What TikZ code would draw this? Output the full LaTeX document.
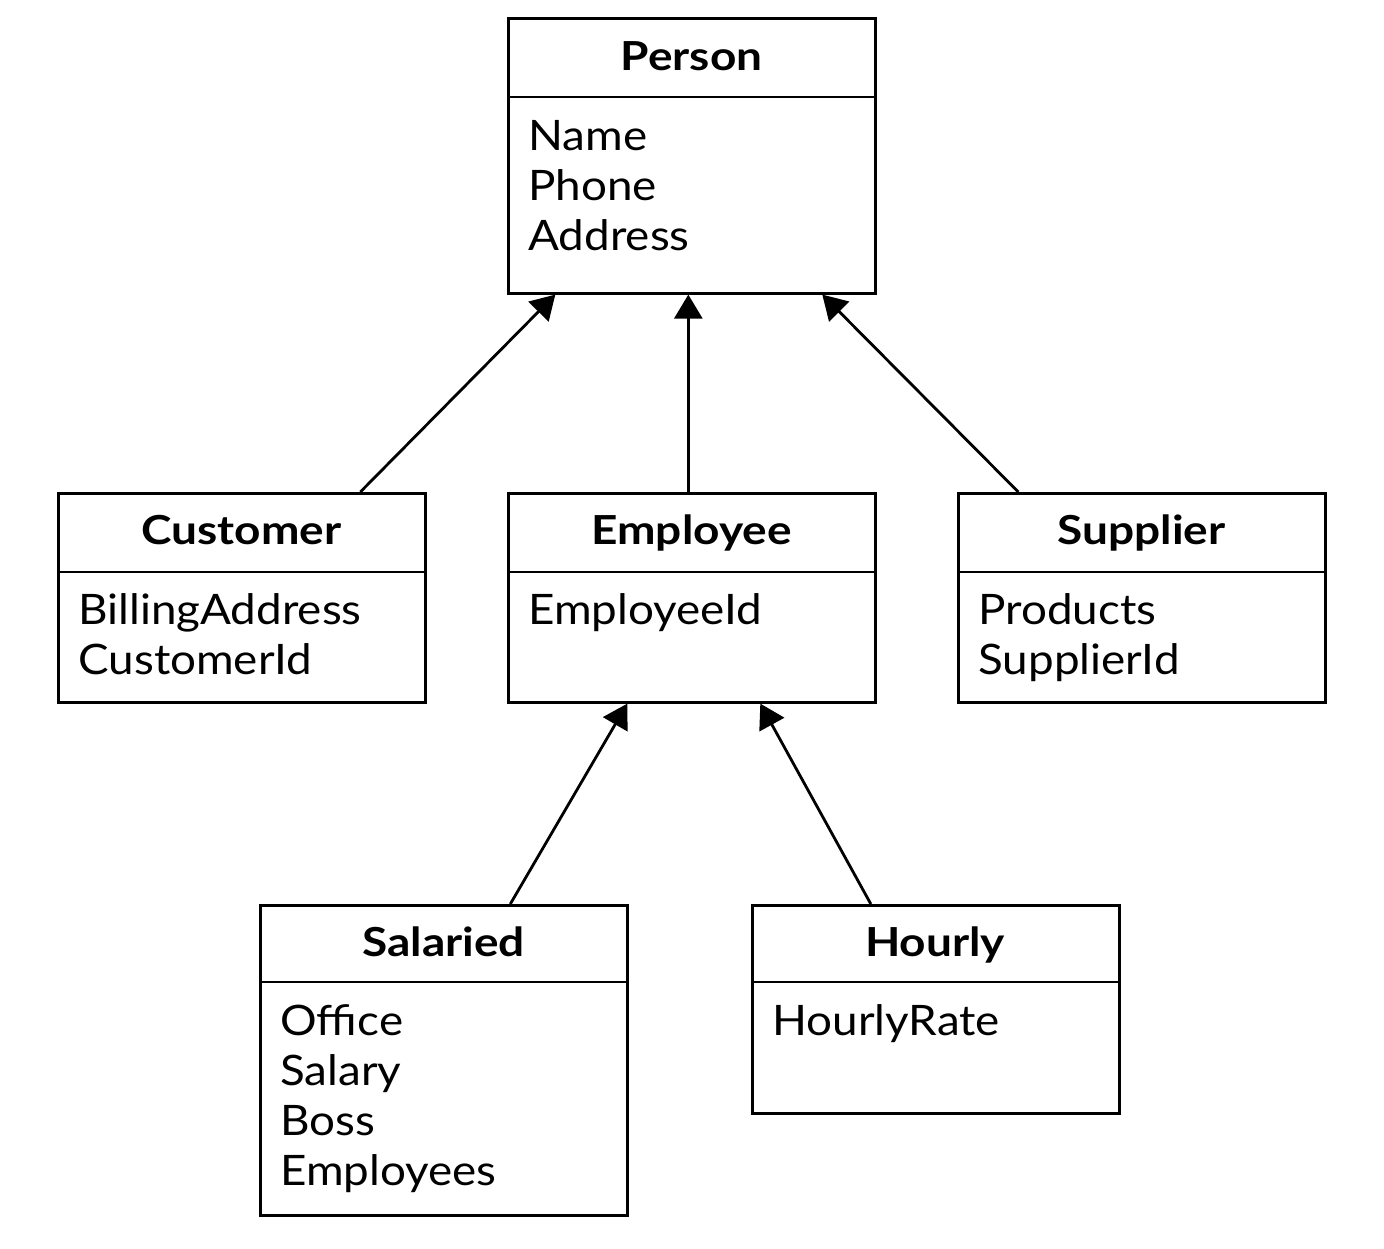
\documentclass[tikz,border=0pt]{standalone}
\usepackage{fontspec}
\setmainfont{Lato}
\newfontfamily\attrfont[FakeStretch=1.09]{Lato}
\newfontfamily\ttlfont[FakeStretch=1.15]{Lato}
\usetikzlibrary{arrows.meta}
\begin{document}
\begin{tikzpicture}[x=0.5pt,y=-0.5pt,
  box/.style={draw=black,line width=1.3pt,minimum width=183.5pt,inner sep=0pt,anchor=north west},
  divline/.style={draw=black,line width=1.3pt},
  ttl/.style={font=\ttlfont\fontsize{20}{22}\selectfont\bfseries,anchor=base,inner sep=0pt},
  attr/.style={font=\attrfont\fontsize{21}{25}\selectfont,anchor=base west,inner sep=0pt},
  inh/.style={draw=black,line width=1.4pt,-{Triangle[length=12pt,width=14pt]}}]
\path[use as bounding box,fill=white] (0,0) rectangle (1384,1248);
% boxes
\node[box,minimum height=137.5pt] (person) at (507,17) {};
\node[box,minimum height=104.5pt] (cust) at (57,492) {};
\node[box,minimum height=104.5pt] (emp) at (507,492) {};
\node[box,minimum height=104.5pt] (supp) at (957,492) {};
\node[box,minimum height=155pt] (sal) at (259,904) {};
\node[box,minimum height=104pt] (hour) at (751,904) {};
% dividers
\draw[divline] (person.west |- 0,97) -- (person.east |- 0,97);
\draw[divline] (cust.west |- 0,572) -- (cust.east |- 0,572);
\draw[divline] (emp.west |- 0,572) -- (emp.east |- 0,572);
\draw[divline] (supp.west |- 0,572) -- (supp.east |- 0,572);
\draw[divline] (sal.west |- 0,982) -- (sal.east |- 0,982);
\draw[divline] (hour.west |- 0,982) -- (hour.east |- 0,982);
% titles
\node[ttl] (tperson) at (691.5,70) {Person};
\node[ttl] (tcust) at (241.5,544) {Customer};
\node[ttl] (temp) at (691.5,544) {Employee};
\node[ttl] (tsupp) at (1141.5,544) {Supplier};
\node[ttl] (tsal) at (443.5,956) {Salaried};
\node[ttl] (thour) at (935,956) {Hourly};
% attributes
\node[attr] (a1) at (528,150) {Name};
\node[attr] (a2) at (528,200) {Phone};
\node[attr] (a3) at (528,250) {Address};
\node[attr] (a4) at (78,624) {BillingAddress};
\node[attr] (a5) at (78,674) {CustomerId};
\node[attr] (a6) at (528,624) {EmployeeId};
\node[attr] (a7) at (978,624) {Products};
\node[attr] (a8) at (978,674) {SupplierId};
\node[attr] (a9) at (280,1035) {Office};
\node[attr] (a10) at (280,1085) {Salary};
\node[attr] (a11) at (280,1135) {Boss};
\node[attr] (a12) at (280,1185) {Employees};
\node[attr] (a13) at (772,1035) {HourlyRate};
% inheritance arrows
\draw[inh] ([xshift=59.25pt]cust.north) -- ([xshift=-68.25pt]person.south);
\draw[inh] ([xshift=-1.75pt]emp.north) -- ([xshift=-1.75pt]person.south);
\draw[inh] ([xshift=-61.75pt]supp.north) -- ([xshift=65.25pt]person.south);
\draw[inh] ([xshift=33.25pt]sal.north) -- ([xshift=-32.25pt]emp.south);
\draw[inh] ([xshift=-32.5pt]hour.north) -- ([xshift=34.25pt]emp.south);
\end{tikzpicture}
\end{document}
